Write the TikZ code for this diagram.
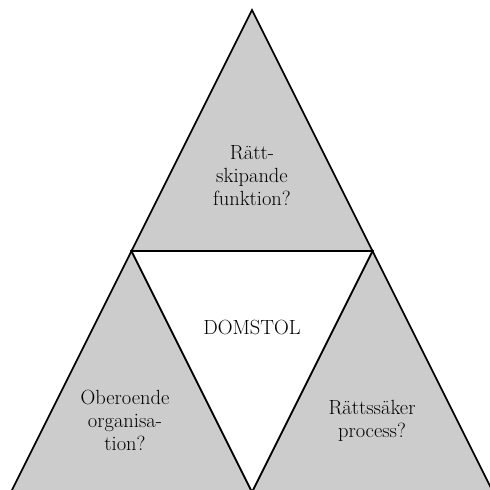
\documentclass[tikz,border=0pt]{standalone}
\usepackage{tikz}
\usetikzlibrary{positioning}
\definecolor{triGray}{RGB}{204,204,204}

\begin{document}
\begin{tikzpicture}[x=1pt,y=-1pt,
    part/.style={fill=triGray, draw=black, line width=1.7pt, line join=miter},
    hole/.style={fill=white, draw=black, line width=1.7pt, line join=miter},
    lbl/.style={align=center, font=\fontsize{20.5}{23}\selectfont, inner sep=0pt}]
    \clip (0,0) rectangle (490,490);

    \coordinate (apex) at (252,10);
    \coordinate (ml) at (131.5,251);
    \coordinate (mr) at (372.5,251);
    \coordinate (bl) at (11,492);
    \coordinate (bm) at (252,492);
    \coordinate (br) at (493,492);

    % three grey corners
    \draw[part] (apex) -- (mr) -- (ml) -- cycle;
    \draw[part] (ml) -- (bm) -- (bl) -- cycle;
    \draw[part] (mr) -- (br) -- (bm) -- cycle;

    % white centre
    \draw[hole] (ml) -- (mr) -- (bm) -- cycle;

    \node[lbl] (top) at (252,176) {R\"att-\\skipande\\funktion?};
    \node[lbl] (centre) at (252,327) {DOMSTOL};
    \node[lbl] (left) at (125,420) {Oberoende\\organisa-\\tion?};
    \node[lbl] (right) at (372,421) {R\"attss\"aker\\process?};
\end{tikzpicture}
\end{document}
